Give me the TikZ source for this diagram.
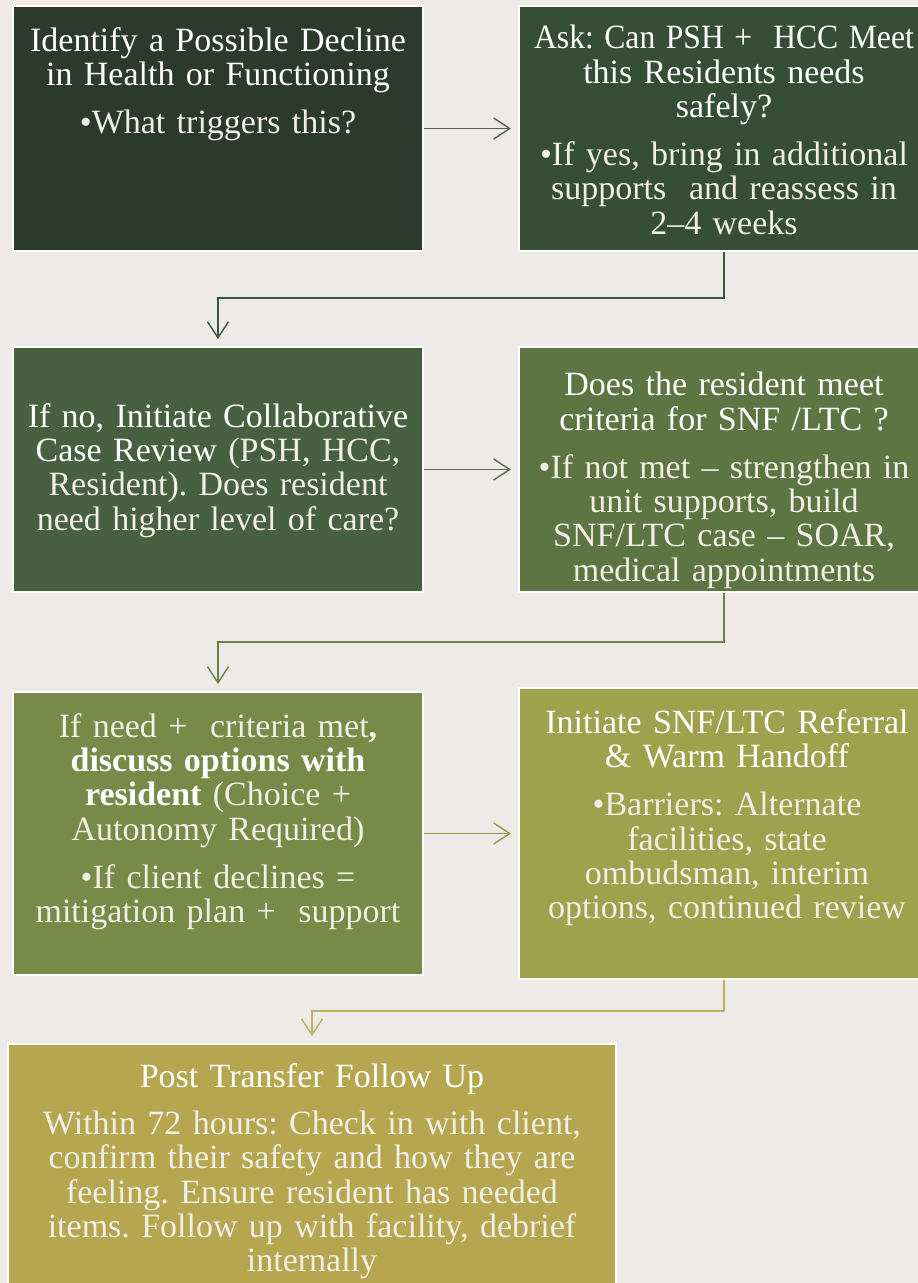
\documentclass[tikz,border=0pt]{standalone}
\usepackage{fontspec}
\setmainfont{Liberation Serif}
\usetikzlibrary{arrows.meta}
\definecolor{bgc}{HTML}{EEEAE7}
\definecolor{fa}{HTML}{2C3A2E}
\definecolor{fb}{HTML}{374E36}
\definecolor{fc}{HTML}{47603F}
\definecolor{fd}{HTML}{5D7542}
\definecolor{fe}{HTML}{788A48}
\definecolor{ff}{HTML}{9EA24C}
\definecolor{fg}{HTML}{B6A64F}
\definecolor{aa}{HTML}{56624F}
\definecolor{ab}{HTML}{3D563B}
\definecolor{ac}{HTML}{587045}
\definecolor{ad}{HTML}{6B8147}
\definecolor{ae}{HTML}{8D9B48}
\definecolor{af}{HTML}{BFAE5A}
\definecolor{bodytxt}{HTML}{F1EFE6}
\newcommand{\ttl}[1]{\textcolor{white}{#1}}
\begin{document}
\begin{tikzpicture}[x=1pt,y=-1pt,
  boxnode/.style={draw=white, line width=2pt, rectangle, inner sep=0pt, minimum width=410pt},
  txtnode/.style={anchor=north, inner sep=0pt, align=center, text width=440pt, text=bodytxt,
    font={\fontsize{34}{34.3}\selectfont\frenchspacing}},
  conn/.style={line width=1.4pt, -{Straight Barb[length=16pt,width=21pt,line width=1.4pt]}, shorten >=7pt}
]
\useasboundingbox (0,0) rectangle (918,1283);
\fill[bgc] (0,0) rectangle (918,1283);

\node[boxnode, fill=fa, minimum height=245pt] (b1) at (218,128.5) {};
\node[boxnode, fill=fb, minimum height=245pt] (b2) at (724,128.5) {};
\node[boxnode, fill=fc, minimum height=245pt] (b3) at (218,469.5) {};
\node[boxnode, fill=fd, minimum height=245pt] (b4) at (724,469.5) {};
\node[boxnode, fill=fe, minimum height=283pt] (b5) at (218,833.5) {};
\node[boxnode, fill=ff, minimum height=291pt] (b6) at (724,833.5) {};
\node[boxnode, fill=fg, minimum width=608pt, minimum height=255pt] (b7) at (312,1171.5) {};

\node[txtnode] (t1) at (218,27) {\ttl{Identify a Possible Decline}\\\ttl{in Health or Functioning}\\[14pt]•What triggers this?};
\node[txtnode] (t2) at (724,25) {\scalebox{0.93}[1]{\ttl{Ask: Can PSH +~ HCC Meet}}\\\ttl{this Residents needs}\\\ttl{safely?}\\[14pt]•If yes, bring in additional\\supports~ and reassess in\\2–4 weeks};
\node[txtnode] (t3) at (218,403) {\ttl{If no, Initiate Collaborative}\\\ttl{Case Review} (PSH, HCC,\\Resident). Does resident\\need higher level of care?};
\node[txtnode] (t4) at (724,372) {\ttl{Does the resident meet}\\\ttl{criteria for SNF /LTC ?}\\[14pt]•If not met – strengthen in\\unit supports, build\\SNF/LTC case – SOAR,\\medical appointments};
\node[txtnode] (t5) at (218,713) {If need +~ criteria met\ttl{\bfseries ,}\\\ttl{\bfseries discuss options with}\\\ttl{\bfseries resident} (Choice +\\Autonomy Required)\\[14pt]•If client declines =\\mitigation plan +~ support};
\node[txtnode] (t6) at (727,709) {\ttl{Initiate SNF/LTC Referral}\\\ttl{\& Warm Handoff}\\[14pt]•Barriers: Alternate\\facilities, state\\ombudsman, interim\\options, continued review};
\node[txtnode, text width=620pt] (t7) at (312,1063) {\ttl{Post Transfer Follow Up}\\[13pt]Within 72 hours: Check in with client,\\confirm their safety and how they are\\feeling. Ensure resident has needed\\items. Follow up with facility, debrief\\internally};

\draw[conn, aa] (b1.east) -- (b2.west);
\draw[conn, ab] (b2.south) -- ++(0,46) -| (b3.north);
\draw[conn, ac] (b3.east) -- (b4.west);
\draw[conn, ad] (b4.south) -- ++(0,49) -| (b5.north);
\draw[conn, ae] (b5.east) -- (b6.west);
\draw[conn, af] (b6.south) -- ++(0,31) -| (b7.north);
\end{tikzpicture}
\end{document}
